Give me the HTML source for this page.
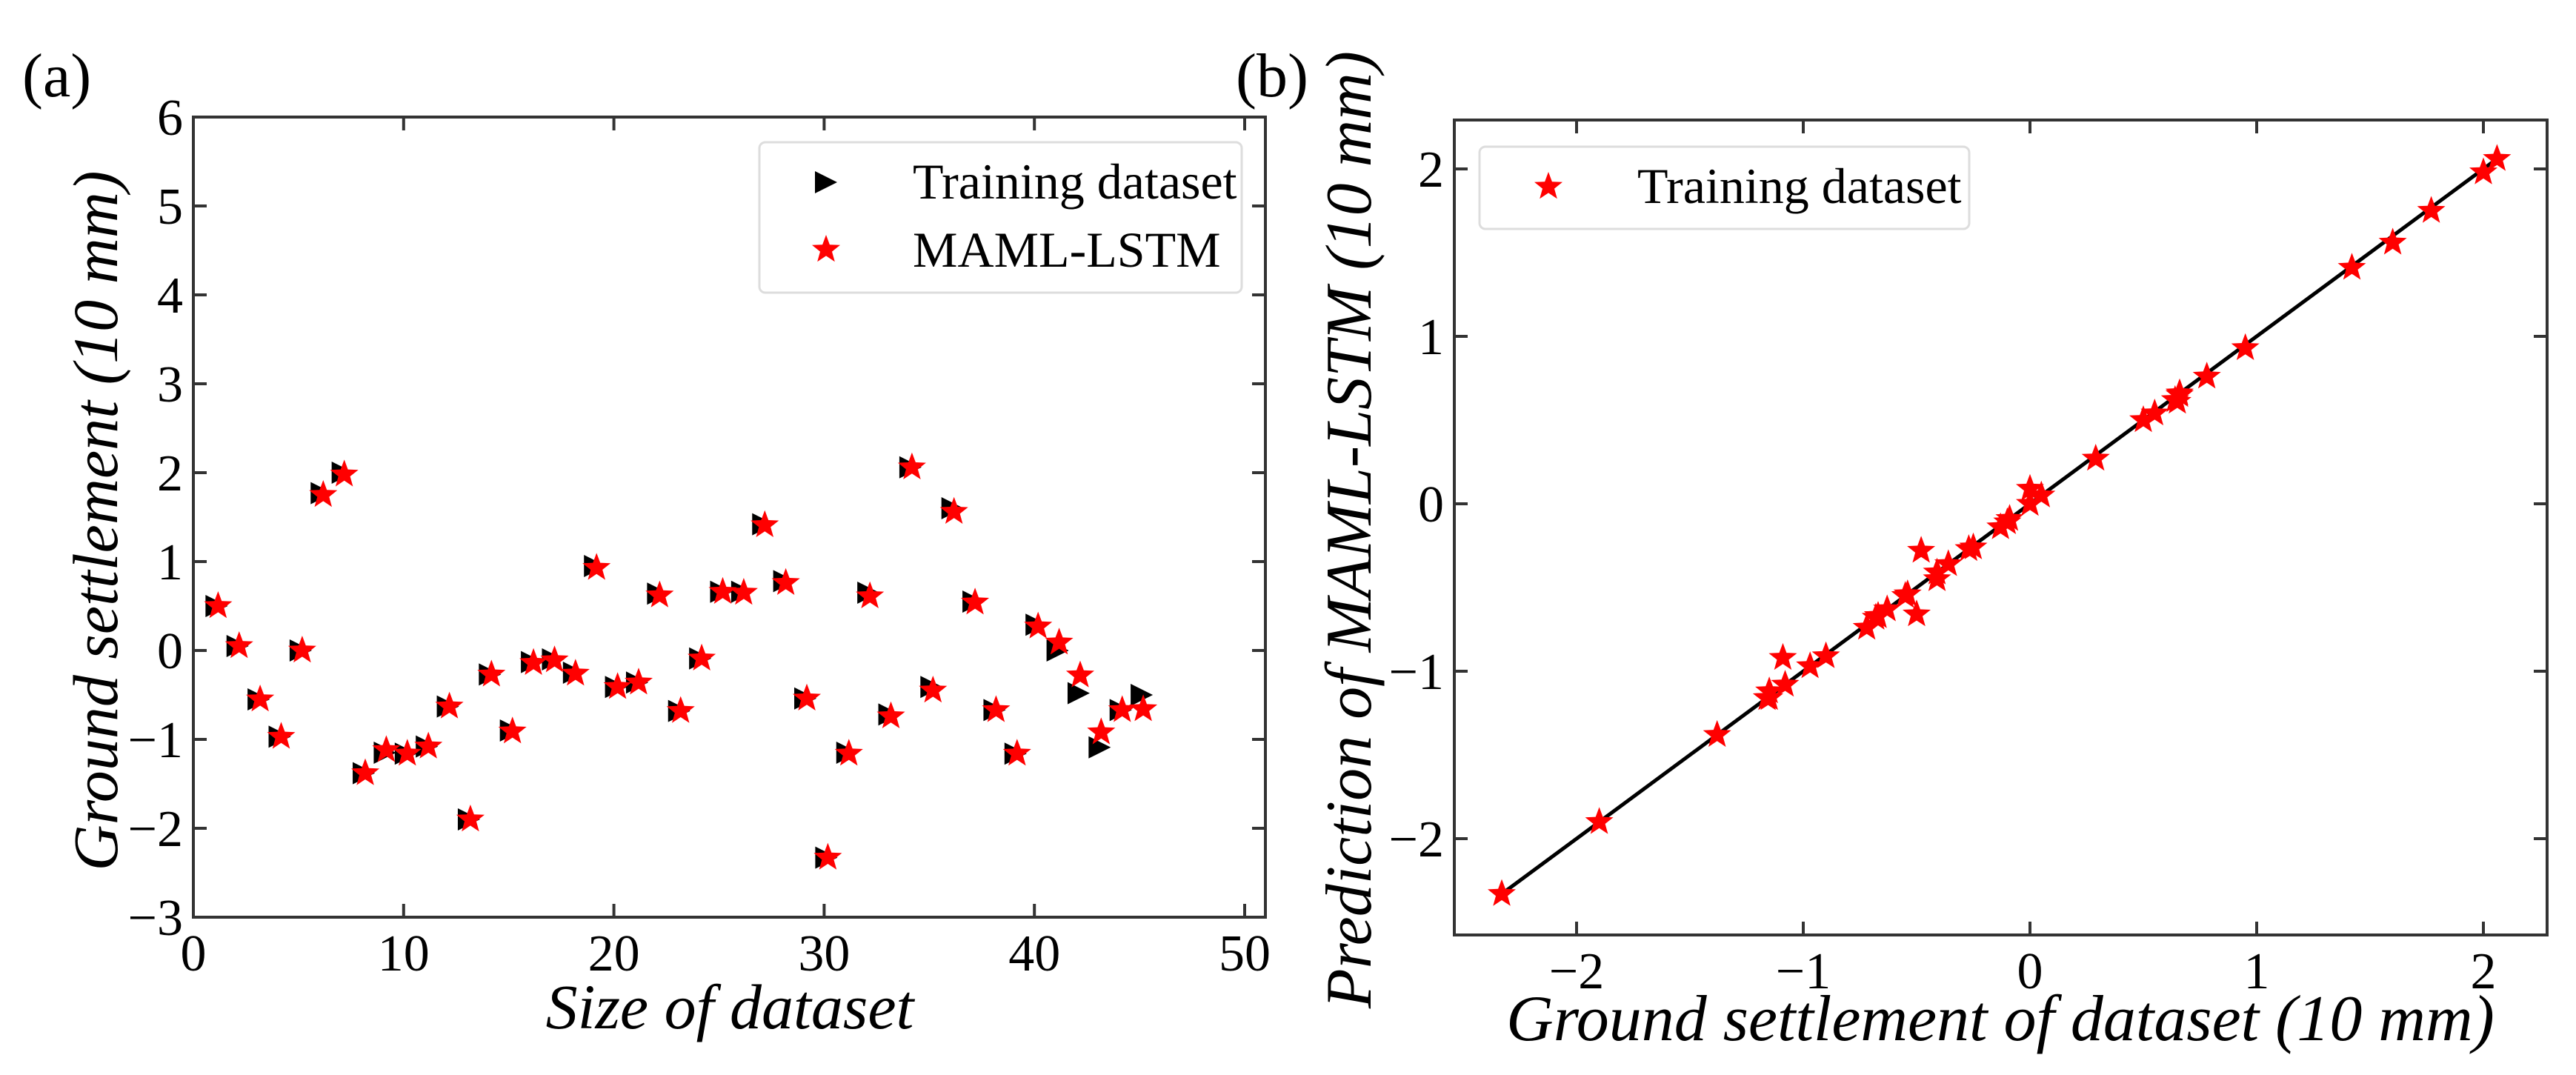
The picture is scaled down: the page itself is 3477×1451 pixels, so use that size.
<!DOCTYPE html>
<html><head><meta charset="utf-8">
<style>
html,body{margin:0;padding:0;background:#fff;}
svg{display:block;font-family:"Liberation Serif",serif;}
</style></head>
<body>
<svg id="fig" width="3477" height="1451" viewBox="0 0 3477 1451" xmlns="http://www.w3.org/2000/svg">
<text x="30" y="130" font-size="84">(a)</text>
<text x="1668" y="130" font-size="84">(b)</text>
<g id="pa"></g>
<g id="pb"></g>
</svg>
<script>
const indices = [1,2,3,4,5,6,7,8,9,10,11,12,13,14,15,16,17,18,19,20,21,22,23,24,25,26,27,28,29,30,31,32,33,34,35,36,37,38,39,40,41,42,43,44,45];
const trainingValues = [0.5,0.05,-0.55,-0.97,0.0,1.77,2.0,-1.38,-1.15,-1.16,-1.08,-0.63,-1.9,-0.27,-0.9,-0.13,-0.1,-0.25,0.95,-0.41,-0.36,0.64,-0.68,-0.09,0.66,0.66,1.42,0.78,-0.54,-2.33,-1.15,0.65,-0.72,2.06,-0.41,1.6,0.55,-0.67,-1.16,0.29,0.0,-0.48,-1.09,-0.67,-0.5];
const mamlValues = [0.5,0.05,-0.55,-0.97,0.0,1.75,1.98,-1.38,-1.12,-1.16,-1.08,-0.63,-1.9,-0.27,-0.91,-0.14,-0.11,-0.26,0.93,-0.41,-0.36,0.62,-0.68,-0.09,0.66,0.65,1.41,0.76,-0.54,-2.33,-1.16,0.61,-0.74,2.06,-0.45,1.56,0.54,-0.67,-1.16,0.27,0.09,-0.28,-0.92,-0.67,-0.66];
const aXTicks = [0,10,20,30,40,50];
const aYTicks = [-3,-2,-1,0,1,2,3,4,5,6];
const bTicks = [-2,-1,0,1,2];
const fitLine = [-2.33,2.06];

const NS='http://www.w3.org/2000/svg';
function mk(parent,tag,attrs){const e=document.createElementNS(NS,tag);for(const k in attrs)e.setAttribute(k,attrs[k]);parent.appendChild(e);return e;}
function starPath(cx,cy,R){const r=R*0.42;let d='';for(let i=0;i<10;i++){const a=-Math.PI/2+i*Math.PI/5;const rr=i%2?r:R;d+=(i?'L':'M')+(cx+rr*Math.cos(a)).toFixed(1)+','+(cy+rr*Math.sin(a)).toFixed(1);}return d+'Z';}
function triPath(cx,cy,s){return `M${cx-s*0.6},${cy-s*0.75}L${cx+s*0.9},${cy}L${cx-s*0.6},${cy+s*0.75}Z`;}

function axes(g,L,T,R,B,xs,ys,xt,yt,name){
  const f=mk(g,'rect',{x:L,y:T,width:R-L,height:B-T,fill:'none',stroke:'#333',['stroke-width']:4});
  
  
  xt.forEach(v=>{const x=xs(v);
    mk(g,'line',{x1:x,y1:B,x2:x,y2:B-18,stroke:'#333','stroke-width':4});
    mk(g,'line',{x1:x,y1:T,x2:x,y2:T+18,stroke:'#333','stroke-width':4});
    const t=mk(g,'text',{x:x,y:B+72,'font-size':70,'text-anchor':'middle'});
    t.textContent=(v<0?'\u2212':'')+Math.abs(v);
    
    
  });
  yt.forEach(v=>{const y=ys(v);
    mk(g,'line',{x1:L,y1:y,x2:L+18,y2:y,stroke:'#333','stroke-width':4});
    mk(g,'line',{x1:R,y1:y,x2:R-18,y2:y,stroke:'#333','stroke-width':4});
    const t=mk(g,'text',{x:L-14,y:y+24,'font-size':70,'text-anchor':'end'});
    t.textContent=(v<0?'\u2212':'')+Math.abs(v);
    
    
  });
}

// Panel A
const pa=document.getElementById('pa');
const aL=261,aT=158,aR=1708,aB=1238;
const ax=v=>aL+(v-0)*(1680-261)/50;
const ay=v=>1238-(v+3)*120;
axes(pa,aL,aT,aR,aB,ax,ay,aXTicks,aYTicks,'panel-a');
indices.forEach((i,k)=>{
  const p=mk(pa,'path',{d:triPath(ax(i),ay(trainingValues[k]),20),fill:'#000'});
  
  
});
indices.forEach((i,k)=>{
  const p=mk(pa,'path',{d:starPath(ax(i)+5,ay(mamlValues[k]),20),fill:'#f00'});
  
  
});
let t=mk(pa,'text',{x:985,y:1388,'font-size':86,'font-style':'italic','text-anchor':'middle'});
t.textContent='Size of dataset';


t=mk(pa,'text',{x:0,y:0,'font-size':86,'font-style':'italic','text-anchor':'middle',transform:'translate(158,703) rotate(-90)'});
t.textContent='Ground settlement (10 mm)';


let lg=mk(pa,'rect',{x:1025,y:192,width:651,height:203,rx:8,fill:'#fff',stroke:'#ddd','stroke-width':3});


mk(pa,'path',{d:triPath(1112,246,20),fill:'#000'});
mk(pa,'path',{d:starPath(1115,337,20),fill:'#f00'});
t=mk(pa,'text',{x:1232,y:268,'font-size':68});t.textContent='Training dataset';


t=mk(pa,'text',{x:1232,y:360,'font-size':68});t.textContent='MAML-LSTM';



// Panel B
const pb=document.getElementById('pb');
const bL=1963,bT=162,bR=3438,bB=1262;
const bx=v=>2740+v*306;
const by=v=>680-v*226;
axes(pb,bL,bT,bR,bB,bx,by,bTicks,bTicks,'panel-b');
const ln=mk(pb,'line',{x1:bx(fitLine[0]),y1:by(fitLine[0]),x2:bx(fitLine[1]),y2:by(fitLine[1]),stroke:'#000','stroke-width':5});


trainingValues.forEach((v,k)=>{
  const p=mk(pb,'path',{d:starPath(bx(v),by(mamlValues[k]),20),fill:'#f00'});
  
  
});
t=mk(pb,'text',{x:2700,y:1404,'font-size':88,'font-style':'italic','text-anchor':'middle'});
t.textContent='Ground settlement of dataset (10 mm)';


t=mk(pb,'text',{x:0,y:0,'font-size':88,'font-style':'italic','text-anchor':'middle',transform:'translate(1850,715) rotate(-90)'});
t.textContent='Prediction of MAML-LSTM (10 mm)';


lg=mk(pb,'rect',{x:1997,y:198,width:661,height:111,rx:8,fill:'#fff',stroke:'#ddd','stroke-width':3});


mk(pb,'path',{d:starPath(2090,252,20),fill:'#f00'});
t=mk(pb,'text',{x:2210,y:274,'font-size':68});t.textContent='Training dataset';


</script>
</body></html>
